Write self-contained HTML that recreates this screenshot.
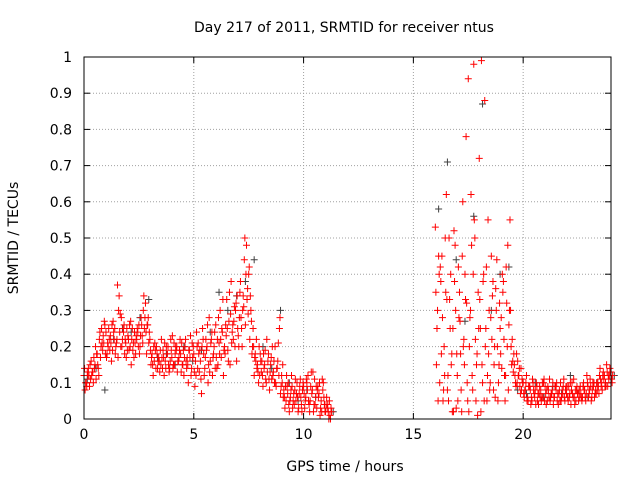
<!DOCTYPE html>
<html><head><meta charset="utf-8"><style>
body{margin:0;background:#fff}
svg{display:block;font-family:"DejaVu Sans","Liberation Sans",sans-serif;font-size:14px}
</style></head><body>
<svg id="chart" width="640" height="480">
<rect width="640" height="480" fill="#fff"/>
<g id="grid"></g>
<g id="ticks"></g>
<g id="marks"></g>
<rect x="84" y="57" width="527" height="362" fill="none" stroke="#000"/>
<text x="344" y="32" text-anchor="middle">Day 217 of 2011, SRMTID for receiver ntus</text>
<text x="345" y="471" text-anchor="middle">GPS time / hours</text>
<text x="18" y="238" text-anchor="middle" transform="rotate(-90 18 238)">SRMTID / TECUs</text>
</svg>
<script>
const xTicks=[0,5,10,15,20];
const yTicks=[0,0.1,0.2,0.3,0.4,0.5,0.6,0.7,0.8,0.9,1];
const yTickLabels=["0","0.1","0.2","0.3","0.4","0.5","0.6","0.7","0.8","0.9","1"];
const seg1Start=0, seg1Step=0.1;
const seg2Start=16, seg2Step=0.1;
const red1=[0.12,0.10,0.14,0.11,0.13,0.15,0.18,0.22,0.25,0.21,0.24,0.20,0.23,0.19,0.25,0.22,0.34,0.28,0.24,0.21,0.23,0.20,0.25,0.24,0.22,0.26,0.28,0.30,0.32,0.26,0.22,0.18,0.16,0.20,0.17,0.15,0.19,0.16,0.18,0.14,0.17,0.21,0.19,0.16,0.18,0.15,0.20,0.17,0.19,0.14,0.18,0.12,0.21,0.16,0.25,0.14,0.20,0.28,0.22,0.18,0.26,0.15,0.30,0.24,0.20,0.33,0.27,0.38,0.22,0.30,0.25,0.35,0.20,0.44,0.48,0.40,0.30,0.25,0.18,0.15,0.12,0.16,0.14,0.10,0.18,0.15,0.12,0.20,0.14,0.25,0.12,0.08,0.05,0.10,0.06,0.03,0.08,0.10,0.07,0.04,0.09,0.06,0.12,0.05,0.08,0.11,0.03,0.07,0.05,0.10,0.02,0.04,0.01];
const red2=[0.08,0.13,0.09,0.12,0.17,0.11,0.14,0.17,0.19,0.26,0.18,0.22,0.16,0.24,0.20,0.17,0.29,0.22,0.18,0.25,0.19,0.15,0.21,0.18,0.24,0.20,0.23,0.25,0.18,0.21,0.15,0.12,0.19,0.14,0.13,0.17,0.12,0.20,0.15,0.22,0.14,0.18,0.13,0.19,0.21,0.12,0.16,0.10,0.23,0.17,0.09,0.20,0.13,0.07,0.18,0.22,0.10,0.16,0.12,0.24,0.14,0.21,0.17,0.12,0.26,0.19,0.15,0.24,0.31,0.16,0.20,0.28,0.34,0.26,0.36,0.22,0.18,0.12,0.22,0.10,0.16,0.09,0.19,0.13,0.08,0.11,0.16,0.09,0.21,0.07,0.15,0.03,0.09,0.02,0.12,0.07,0.05,0.02,0.11,0.08,0.03,0.10,0.04,0.13,0.02,0.06,0.09,0.01,0.11,0.04,0.06,0.00,0.03];
const red5=[0.14,0.09,0.12,0.16,0.10,0.20,0.15,0.24,0.21,0.27,0.17,0.25,0.21,0.27,0.18,0.37,0.24,0.20,0.26,0.17,0.22,0.27,0.19,0.21,0.25,0.18,0.26,0.34,0.24,0.28,0.19,0.15,0.21,0.18,0.16,0.22,0.17,0.14,0.20,0.16,0.23,0.15,0.20,0.17,0.13,0.19,0.22,0.15,0.17,0.21,0.13,0.24,0.18,0.11,0.22,0.17,0.26,0.13,0.24,0.20,0.17,0.28,0.22,0.33,0.18,0.25,0.35,0.21,0.27,0.32,0.23,0.38,0.30,0.50,0.33,0.42,0.27,0.20,0.16,0.13,0.18,0.12,0.15,0.22,0.11,0.17,0.13,0.10,0.16,0.28,0.10,0.06,0.12,0.04,0.08,0.05,0.11,0.06,0.09,0.02,0.07,0.11,0.05,0.09,0.13,0.04,0.08,0.10,0.02,0.06,0.04,0.02,0.00];
const red6=[0.10,0.12,0.15,0.13,0.14,0.18,0.12,0.20,0.23,0.18,0.21,0.19,0.26,0.22,0.21,0.30,0.20,0.25,0.22,0.19,0.26,0.22,0.17,0.23,0.20,0.23,0.21,0.28,0.26,0.24,0.17,0.20,0.14,0.16,0.19,0.14,0.21,0.18,0.13,0.19,0.15,0.20,0.16,0.22,0.15,0.17,0.14,0.19,0.12,0.20,0.16,0.14,0.19,0.20,0.12,0.19,0.15,0.21,0.17,0.14,0.22,0.18,0.25,0.19,0.23,0.16,0.29,0.26,0.20,0.34,0.28,0.25,0.31,0.40,0.29,0.34,0.20,0.17,0.14,0.20,0.13,0.18,0.11,0.16,0.13,0.20,0.10,0.14,0.12,0.09,0.06,0.09,0.07,0.05,0.09,0.04,0.07,0.03,0.06,0.10,0.05,0.08,0.02,0.07,0.04,0.09,0.06,0.03,0.08,0.02,0.03,0.05,0.02];
const red3=[0.53,0.30,0.10,0.45,0.20,0.62,0.05,0.40,0.25,0.48,0.12,0.35,0.02,0.22,0.78,0.94,0.30,0.08,0.50,0.18,0.72,0.99,0.40,0.25,0.55,0.10,0.34,0.20,0.44,0.15,0.28,0.38,0.12,0.48,0.55,0.22,0.15,0.18,0.12,0.14,0.10,0.08,0.06,0.09,0.05,0.07,0.10,0.04,0.08,0.06,0.09,0.05,0.11,0.07,0.06,0.08,0.04,0.10,0.07,0.05,0.09,0.06,0.08,0.11,0.05,0.07,0.09,0.06,0.08,0.12,0.07,0.05,0.09,0.08,0.10,0.14,0.08,0.12,0.15,0.11,0.13];
const red4=[0.15,0.45,0.38,0.05,0.50,0.08,0.33,0.18,0.52,0.03,0.42,0.18,0.60,0.40,0.10,0.20,0.48,0.98,0.05,0.35,0.25,0.10,0.88,0.05,0.30,0.45,0.08,0.36,0.05,0.25,0.40,0.12,0.32,0.26,0.20,0.13,0.10,0.16,0.09,0.11,0.06,0.12,0.09,0.04,0.10,0.08,0.05,0.09,0.06,0.11,0.04,0.08,0.06,0.10,0.09,0.05,0.08,0.06,0.11,0.09,0.05,0.10,0.07,0.04,0.09,0.08,0.06,0.10,0.05,0.09,0.11,0.08,0.06,0.10,0.07,0.09,0.13,0.10,0.09,0.14,0.10];
const red7=[0.35,0.05,0.42,0.28,0.12,0.33,0.50,0.15,0.02,0.30,0.05,0.27,0.45,0.15,0.32,0.02,0.62,0.40,0.22,0.01,0.33,0.15,0.05,0.42,0.18,0.28,0.38,0.06,0.20,0.32,0.14,0.22,0.42,0.08,0.30,0.16,0.12,0.10,0.14,0.08,0.07,0.10,0.05,0.08,0.11,0.06,0.09,0.07,0.05,0.10,0.07,0.09,0.05,0.08,0.06,0.10,0.07,0.05,0.09,0.08,0.06,0.07,0.10,0.06,0.08,0.05,0.07,0.09,0.06,0.10,0.08,0.06,0.10,0.07,0.09,0.11,0.12,0.09,0.13,0.12,0.11];
const red8=[0.25,0.40,0.18,0.08,0.35,0.12,0.25,0.02,0.38,0.18,0.28,0.08,0.20,0.33,0.05,0.28,0.12,0.55,0.15,0.25,0.02,0.38,0.20,0.12,0.08,0.22,0.15,0.30,0.10,0.18,0.35,0.05,0.20,0.30,0.15,0.18,0.09,0.12,0.07,0.10,0.08,0.05,0.09,0.06,0.08,0.04,0.07,0.06,0.10,0.05,0.08,0.06,0.07,0.04,0.09,0.07,0.05,0.08,0.06,0.07,0.09,0.04,0.06,0.08,0.07,0.06,0.05,0.08,0.07,0.06,0.09,0.10,0.07,0.08,0.12,0.10,0.11,0.09,0.12,0.13,0.12];
const blackStep=0.4;
const black1=[0.11,0.14,0.08,0.22,0.25,0.24,0.28,0.33,0.17,0.18,0.15,0.20,0.16,0.19,0.24,0.35,0.30,0.34,0.38,0.44,0.20,0.14,0.30,0.10,0.05,0.08,0.06,0.04,0.02];
const black2=[0.58,0.71,0.44,0.27,0.56,0.87,0.30,0.40,0.42,0.08,0.07,0.10,0.06,0.09,0.07,0.12,0.08,0.06,0.10,0.09,0.12];

const X0=84,X1=611,Y0=419,Y1=57,XMAX=24;
const xs=v=>X0+(v/XMAX)*(X1-X0);
const ys=v=>Y0-v*(Y0-Y1);
const NS="http://www.w3.org/2000/svg";
const grid=document.getElementById('grid'),ticks=document.getElementById('ticks'),marks=document.getElementById('marks');
function mk(tag,attrs,parent){const e=document.createElementNS(NS,tag);for(const k in attrs)e.setAttribute(k,attrs[k]);parent.appendChild(e);return e;}
xTicks.forEach(t=>{
  const x=xs(t);
  if(t>0){const g=mk('line',{x1:x,x2:x,y1:Y1,y2:Y0,stroke:'#a0a0a0','stroke-dasharray':'1,2'},grid);
  
  }
  mk('line',{x1:x,x2:x,y1:Y0,y2:Y0-6,stroke:'#000'},ticks);
  mk('line',{x1:x,x2:x,y1:Y1,y2:Y1+6,stroke:'#000'},ticks);
  const l=mk('text',{x:x,y:Y0+20,'text-anchor':'middle'},ticks);l.textContent=t;
  
  
});
yTicks.forEach((t,i)=>{
  const y=ys(t);
  if(t>0&&t<1){const g=mk('line',{x1:X0,x2:X1,y1:y,y2:y,stroke:'#a0a0a0','stroke-dasharray':'1,2'},grid);
  
  }
  mk('line',{x1:X0,x2:X0+6,y1:y,y2:y,stroke:'#000'},ticks);
  mk('line',{x1:X1,x2:X1-6,y1:y,y2:y,stroke:'#000'},ticks);
  const l=mk('text',{x:72,y:y+5,'text-anchor':'end'},ticks);l.textContent=yTickLabels[i];
  
  
});
function plus(t,v,color){
  const x=xs(t),y=ys(v);
  const p=mk('path',{d:`M${x-3.5},${y}h7M${x},${y-3.5}v7`,stroke:color,'stroke-width':1,fill:'none'},marks);
  
  
}
black1.forEach((v,i)=>plus(seg1Start+i*blackStep+0.15,v,'#404040'));
black2.forEach((v,i)=>plus(seg2Start+i*blackStep+0.15,v,'#404040'));
red1.forEach((v,i)=>plus(seg1Start+i*seg1Step,v,'#ff0000'));
red5.forEach((v,i)=>plus(seg1Start+i*seg1Step+0.025,v,'#ff0000'));
red2.forEach((v,i)=>plus(seg1Start+i*seg1Step+0.05,v,'#ff0000'));
red6.forEach((v,i)=>plus(seg1Start+i*seg1Step+0.075,v,'#ff0000'));
red3.forEach((v,i)=>plus(seg2Start+i*seg2Step,v,'#ff0000'));
red7.forEach((v,i)=>plus(seg2Start+i*seg2Step+0.025,v,'#ff0000'));
red4.forEach((v,i)=>plus(seg2Start+i*seg2Step+0.05,v,'#ff0000'));
red8.forEach((v,i)=>plus(seg2Start+i*seg2Step+0.075,v,'#ff0000'));
</script>
</body></html>
